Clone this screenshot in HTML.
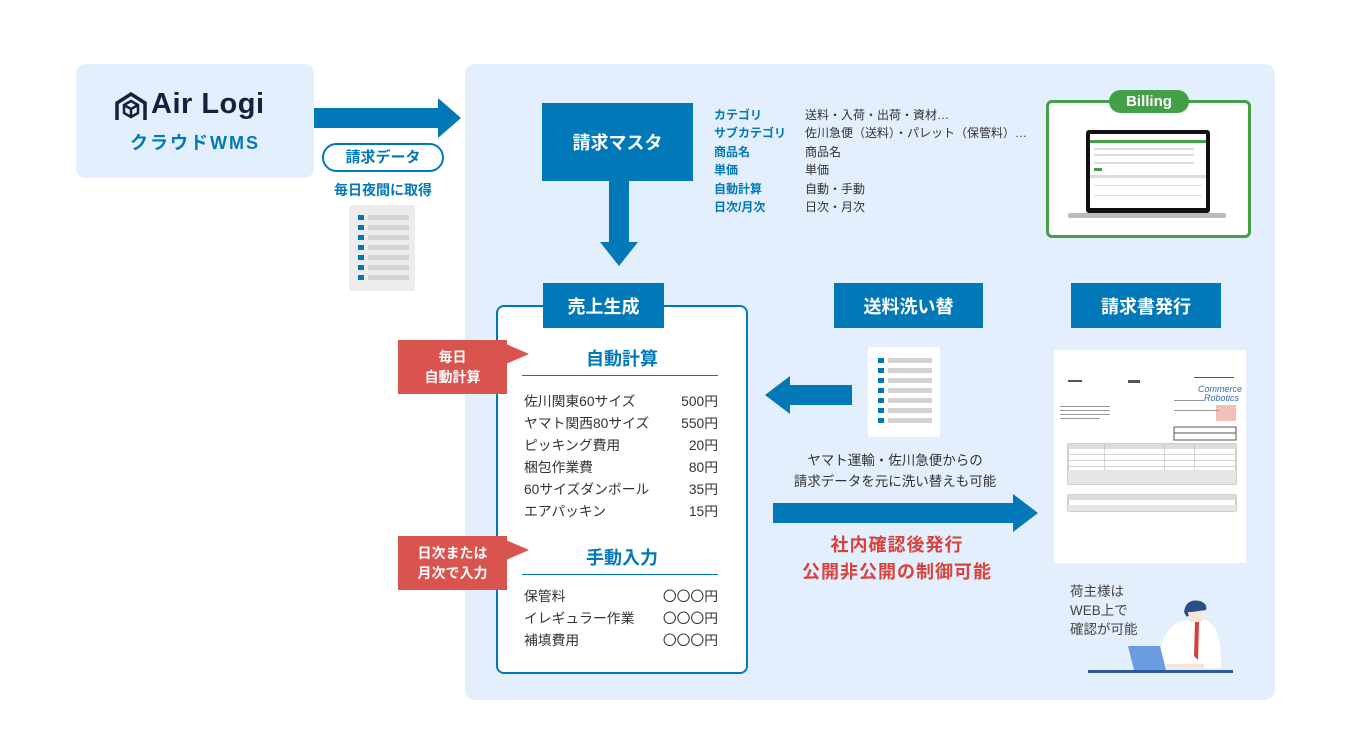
<!DOCTYPE html>
<html><head><meta charset="utf-8"><style>
*{margin:0;padding:0;box-sizing:border-box}
body{width:1352px;height:750px;background:#fff;position:relative;overflow:hidden;font-family:"Liberation Sans","Noto Sans CJK JP",sans-serif}
.a{position:absolute}
.bl{background:#0179b9;color:#fff;font-weight:bold;font-size:18px;display:flex;align-items:center;justify-content:center}
.rd{background:#d9534f;color:#fff;font-weight:bold;font-size:14px;display:flex;align-items:center;justify-content:center;text-align:center;line-height:20px}
.it{position:absolute;left:524px;width:194px;font-size:13.8px;color:#333;display:flex;justify-content:space-between}
.lb{position:absolute;left:714px;font-size:12px;font-weight:bold;color:#0179b9}
.vl{position:absolute;left:805px;font-size:12px;color:#333}
</style></head><body>
<div class="a" style="left:76px;top:64px;width:238px;height:114px;background:#e3effc;border-radius:10px"></div>
<svg class="a" style="left:114px;top:92px" width="34" height="30" viewBox="0 0 34 30"><path d="M3 28V11L17 2L31 11V28" fill="none" stroke="#13213b" stroke-width="3.5"/><path d="M10 13L17 9L24 13V21L17 25L10 21Z M10 13L17 17L24 13 M17 17V25" fill="none" stroke="#13213b" stroke-width="2.5"/></svg>
<div class="a" style="left:151px;top:88px;font-size:29px;font-weight:bold;color:#13213b;letter-spacing:0.5px">Air Logi</div>
<div class="a" style="left:76px;top:129px;width:238px;text-align:center;font-size:18px;font-weight:bold;color:#0179b9;letter-spacing:2px">クラウドWMS</div>
<svg class="a" style="left:314px;top:98px" width="150" height="42"><rect x="0" y="10" width="126" height="20" fill="#0179b9"/><polygon points="124,0 147,20 124,40" fill="#0179b9"/></svg>
<div class="a" style="left:322px;top:143px;width:122px;height:29px;border:2px solid #0179b9;border-radius:15px;background:#fff;color:#0179b9;font-weight:bold;font-size:15px;text-align:center;line-height:25px">請求データ</div>
<div class="a" style="left:322px;top:180px;width:122px;text-align:center;color:#0179b9;font-weight:bold;font-size:14px">毎日夜間に取得</div>
<svg class="a" style="left:349px;top:205px" width="66" height="86"><rect width="66" height="86" rx="3" fill="#ececec"/><g fill="#0179b9"><rect x="9" y="10" width="6" height="5"/><rect x="9" y="20" width="6" height="5"/><rect x="9" y="30" width="6" height="5"/><rect x="9" y="40" width="6" height="5"/><rect x="9" y="50" width="6" height="5"/><rect x="9" y="60" width="6" height="5"/><rect x="9" y="70" width="6" height="5"/></g><g fill="#d3d3d3"><rect x="19" y="10" width="41" height="5"/><rect x="19" y="20" width="41" height="5"/><rect x="19" y="30" width="41" height="5"/><rect x="19" y="40" width="41" height="5"/><rect x="19" y="50" width="41" height="5"/><rect x="19" y="60" width="41" height="5"/><rect x="19" y="70" width="41" height="5"/></g></svg>
<div class="a" style="left:465px;top:64px;width:810px;height:636px;background:#e3effc;border-radius:10px"></div>
<div class="a bl" style="left:542px;top:103px;width:151px;height:78px">請求マスタ</div>
<svg class="a" style="left:600px;top:181px" width="40" height="86"><rect x="9" y="0" width="20" height="62" fill="#0179b9"/><polygon points="0,61 38,61 19,85" fill="#0179b9"/></svg>
<div class="lb" style="top:106px">カテゴリ</div><div class="vl" style="top:106px">送料・入荷・出荷・資材…</div>
<div class="lb" style="top:124px">サブカテゴリ</div><div class="vl" style="top:124px">佐川急便（送料）・パレット（保管料）…</div>
<div class="lb" style="top:143px">商品名</div><div class="vl" style="top:143px">商品名</div>
<div class="lb" style="top:161px">単価</div><div class="vl" style="top:161px">単価</div>
<div class="lb" style="top:180px">自動計算</div><div class="vl" style="top:180px">自動・手動</div>
<div class="lb" style="top:198px">日次/月次</div><div class="vl" style="top:198px">日次・月次</div>
<div class="a" style="left:1046px;top:100px;width:205px;height:138px;border:3px solid #43a047;border-radius:6px;background:#fff"></div>
<div class="a" style="left:1109px;top:90px;width:80px;height:23px;background:#43a047;border-radius:12px;color:#fff;font-weight:bold;font-size:15px;text-align:center;line-height:23px">Billing</div>
<svg class="a" style="left:1066px;top:130px" width="162" height="92"><rect x="20" y="0" width="124" height="83" rx="3" fill="#111"/><rect x="24" y="4" width="116" height="74" fill="#fff"/><rect x="24" y="10" width="116" height="3" fill="#43a047"/><g fill="#ddd"><rect x="28" y="18" width="100" height="2"/><rect x="28" y="24" width="100" height="2"/><rect x="28" y="32" width="100" height="2"/><rect x="24" y="45" width="116" height="3"/><rect x="28" y="55" width="108" height="1"/><rect x="28" y="65" width="108" height="1"/></g><rect x="28" y="38" width="8" height="3" fill="#43a047"/><rect x="2" y="83" width="158" height="5" rx="2" fill="#bbb"/></svg>
<div class="a" style="left:496px;top:305px;width:252px;height:369px;border:2px solid #0179b9;border-radius:8px;background:#fff"></div>
<div class="a bl" style="left:543px;top:283px;width:121px;height:45px">売上生成</div>
<div class="a" style="left:496px;top:345px;width:252px;text-align:center;font-size:18px;font-weight:bold;color:#0179b9">自動計算</div>
<div class="a" style="left:522px;top:375px;width:196px;height:1px;background:#0179b9"></div>
<div class="it" style="top:390px"><span>佐川関東60サイズ</span><span>500円</span></div>
<div class="it" style="top:412px"><span>ヤマト関西80サイズ</span><span>550円</span></div>
<div class="it" style="top:434px"><span>ピッキング費用</span><span>20円</span></div>
<div class="it" style="top:456px"><span>梱包作業費</span><span>80円</span></div>
<div class="it" style="top:478px"><span>60サイズダンボール</span><span>35円</span></div>
<div class="it" style="top:500px"><span>エアパッキン</span><span>15円</span></div>
<div class="a" style="left:496px;top:544px;width:252px;text-align:center;font-size:18px;font-weight:bold;color:#0179b9">手動入力</div>
<div class="a" style="left:522px;top:574px;width:196px;height:1px;background:#0179b9"></div>
<div class="it" style="top:585px"><span>保管料</span><span>〇〇〇円</span></div>
<div class="it" style="top:607px"><span>イレギュラー作業</span><span>〇〇〇円</span></div>
<div class="it" style="top:629px"><span>補填費用</span><span>〇〇〇円</span></div>
<div class="a rd" style="left:398px;top:340px;width:109px;height:54px">毎日<br>自動計算</div>
<svg class="a" style="left:506px;top:344px" width="24" height="22"><polygon points="0,0 23,10 0,20" fill="#d9534f"/></svg>
<div class="a rd" style="left:398px;top:536px;width:109px;height:54px">日次または<br>月次で入力</div>
<svg class="a" style="left:506px;top:540px" width="24" height="22"><polygon points="0,0 23,10 0,20" fill="#d9534f"/></svg>
<div class="a bl" style="left:834px;top:283px;width:149px;height:45px">送料洗い替</div>
<svg class="a" style="left:868px;top:347px" width="72" height="90"><rect width="72" height="90" rx="3" fill="#fff"/><g fill="#0179b9"><rect x="10" y="11" width="6" height="5"/><rect x="10" y="21" width="6" height="5"/><rect x="10" y="31" width="6" height="5"/><rect x="10" y="41" width="6" height="5"/><rect x="10" y="51" width="6" height="5"/><rect x="10" y="61" width="6" height="5"/><rect x="10" y="71" width="6" height="5"/></g><g fill="#d3d3d3"><rect x="20" y="11" width="44" height="5"/><rect x="20" y="21" width="44" height="5"/><rect x="20" y="31" width="44" height="5"/><rect x="20" y="41" width="44" height="5"/><rect x="20" y="51" width="44" height="5"/><rect x="20" y="61" width="44" height="5"/><rect x="20" y="71" width="44" height="5"/></g></svg>
<svg class="a" style="left:765px;top:376px" width="88" height="38"><polygon points="0,19 25,0 25,38" fill="#0179b9"/><rect x="24" y="9" width="63" height="20" fill="#0179b9"/></svg>
<div class="a" style="left:760px;top:450px;width:270px;text-align:center;font-size:13.5px;color:#333;line-height:21px">ヤマト運輸・佐川急便からの<br>請求データを元に洗い替えも可能</div>
<svg class="a" style="left:773px;top:494px" width="268" height="38"><rect x="0" y="9" width="242" height="20" fill="#0179b9"/><polygon points="240,0 265,19 240,38" fill="#0179b9"/></svg>
<div class="a" style="left:760px;top:532px;width:274px;text-align:center;font-size:18px;font-weight:bold;color:#d9413d;line-height:27px;letter-spacing:1px">社内確認後発行<br>公開非公開の制御可能</div>
<div class="a bl" style="left:1071px;top:283px;width:150px;height:45px">請求書発行</div>
<div class="a" style="left:1054px;top:350px;width:192px;height:213px;background:#fff"></div>
<svg class="a" style="left:1054px;top:350px" width="192" height="213"><g fill="#555"><rect x="14" y="30" width="14" height="2"/><rect x="74" y="30" width="12" height="3"/><rect x="140" y="27" width="40" height="1"/></g><text x="144" y="42" font-size="9" fill="#2b6cb0" font-family="Liberation Sans" font-style="italic">Commerce</text><text x="150" y="51" font-size="9" fill="#2b6cb0" font-family="Liberation Sans" font-style="italic">Robotics</text><rect x="162" y="55" width="20" height="16" fill="#f3c0b8"/><g fill="#999"><rect x="6" y="56" width="50" height="1"/><rect x="6" y="60" width="50" height="1"/><rect x="6" y="64" width="50" height="1"/><rect x="6" y="68" width="40" height="1"/><rect x="120" y="50" width="30" height="1"/><rect x="120" y="60" width="45" height="1"/></g><rect x="120" y="77" width="62" height="13" fill="none" stroke="#555"/><rect x="120" y="83" width="62" height="7" fill="none" stroke="#555"/><rect x="14" y="94" width="168" height="40" fill="none" stroke="#777" stroke-width="0.7"/><rect x="14" y="94" width="168" height="5" fill="#ddd"/><g fill="#bbb"><rect x="14" y="104" width="168" height="0.6"/><rect x="14" y="110" width="168" height="0.6"/><rect x="14" y="116" width="168" height="0.6"/><rect x="50" y="94" width="0.6" height="40"/><rect x="110" y="94" width="0.6" height="40"/><rect x="140" y="94" width="0.6" height="40"/></g><rect x="14" y="120" width="168" height="14" fill="#e5e5e5"/><rect x="14" y="145" width="168" height="16" fill="none" stroke="#777" stroke-width="0.7"/><rect x="14" y="145" width="168" height="5" fill="#ddd"/><rect x="14" y="155" width="168" height="6" fill="#e5e5e5"/></svg>
<div class="a" style="left:1070px;top:582px;font-size:13.5px;color:#444;line-height:19px">荷主様は<br>WEB上で<br>確認が可能</div>
<svg class="a" style="left:1088px;top:598px" width="145" height="80"><path d="M70 70 Q72 25 100 22 L118 22 Q134 28 133 70Z" fill="#fff"/><path d="M96 14 Q98 0 112 3 Q120 6 118 12 L104 14 Q100 20 98 18Z" fill="#2c4f8a"/><path d="M100 14 L114 14 L114 24 L102 24Z" fill="#fbe4d6"/><polygon points="107,24 111,24 110,62 106,58" fill="#d6403a"/><polygon points="40,48 72,48 78,72 46,72" fill="#6b9be0"/><rect x="78" y="66" width="38" height="4" fill="#fbe4d6"/><rect x="0" y="72" width="145" height="3" fill="#2c5aa0"/></svg>
</body></html>
